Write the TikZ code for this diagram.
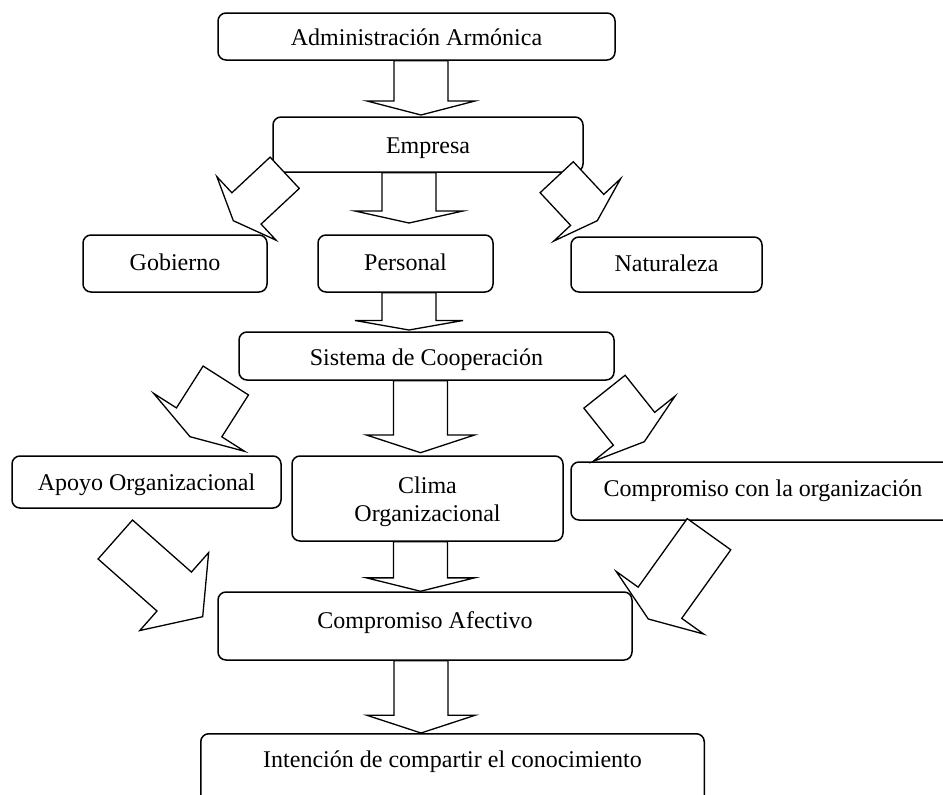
\documentclass[tikz,border=0pt]{standalone}
\usepackage{fontspec}
\setmainfont{Liberation Serif}
\usetikzlibrary{calc}

\tikzset{
  box/.style={draw, line width=1.5pt, rounded corners=8pt, inner sep=0pt,
    fill=white, font=\fontsize{24}{28}\selectfont, align=center},
  % single line of text: fixed height, baseline set by the depth
  oneline/.style={text height=18pt, text depth=#1},
  barrow/.style={draw, fill=white, line width=1.3pt, line join=miter},
}

% block arrow: #1 tail, #2 tip, #3 half shaft width, #4 half head width, #5 head length
\newcommand\blockarrow[5]{%
  \coordinate (neck) at ($(#2)!#5!(#1)$);
  \draw[barrow] ($(#1)!#3!90:(#2)$) -- ($(neck)!#3!90:(#2)$) -- ($(neck)!#4!90:(#2)$)
    -- (#2) -- ($(neck)!#4!-90:(#2)$) -- ($(neck)!#3!-90:(#2)$)
    -- ($(#1)!#3!-90:(#2)$) -- cycle;}

\begin{document}
\begin{tikzpicture}[x=1pt, y=-1pt]
\useasboundingbox (0,0) rectangle (943,795);
\clip (0,0) rectangle (943,795);

% boxes
\node[box, oneline=0pt, minimum width=397pt, minimum height=47pt] (adm) at (416.5,36.5) {Administración Armónica};
\node[box, oneline=0pt, minimum width=310pt, minimum height=55pt] (emp) at (428,144.5) {Empresa};
\node[box, oneline=5pt, minimum width=184pt, minimum height=57pt] (gob) at (175,263.5) {Gobierno};
\node[box, oneline=5pt, minimum width=175pt, minimum height=57pt] (per) at (405.5,263.5) {Personal};
\node[box, oneline=4pt, minimum width=191pt, minimum height=55pt] (nat) at (666.5,264.5) {Naturaleza};
\node[box, oneline=0pt, minimum width=375pt, minimum height=48pt] (sis) at (426.5,356) {Sistema de Cooperación};
\node[box, oneline=2pt, minimum width=269pt, minimum height=52pt] (apo) at (146.5,482) {Apoyo Organizacional};
\node[box, minimum width=271pt, minimum height=85pt] (cli) at (427.5,498.5) {\rule{0pt}{23pt}Clima\\Organizacional};
\node[box, oneline=8pt, minimum width=384pt, minimum height=58pt] (org) at (763,491) {Compromiso con la organización};
\node[box, oneline=14pt, minimum width=414pt, minimum height=68pt] (afe) at (425,626) {Compromiso Afectivo};
\node[box, minimum width=503.5pt, text height=34pt, text depth=40pt, anchor=north] (int) at (452.5,733) {Intención de compartir el conocimiento};

% arrow ends
\coordinate (t1) at (adm.south -| 421,0);   \coordinate (h1) at (421,115);
\coordinate (t2) at (emp.south -| 409,0);   \coordinate (h2) at (409,223);
\coordinate (t3) at (per.south -| 409,0);   \coordinate (h3) at (409,330);
\coordinate (t4) at (sis.south -| 420.5,0); \coordinate (h4) at (420.5,452.7);
\coordinate (t5) at (cli.south -| 420.5,0); \coordinate (h5) at (afe.north -| 420.5,0);
\coordinate (t6) at (afe.south -| 421,0);   \coordinate (h6) at (int.north -| 421,0);

\coordinate (tg) at (284.7,172.8); \coordinate (hg) at (233.3,220.7);
\coordinate (tn) at (556.7,177.2); \coordinate (hn) at (597.3,220.7);
\coordinate (ta) at (225.8,380.5); \coordinate (ha) at (190,436.7);
\coordinate (to) at (604.5,391.7); \coordinate (ho) at (644.3,441.7);
\coordinate (tb) at (115.3,539.5); \coordinate (hb) at (202.7,616.7);
\coordinate (tc) at (709,534.2);   \coordinate (hc) at (648.3,619);

% vertical arrows
\blockarrow{t1}{h1}{27pt}{54pt}{14pt}
\blockarrow{t2}{h2}{27pt}{54pt}{12pt}
\blockarrow{t3}{h3}{27pt}{54pt}{9.5pt}
\blockarrow{t4}{h4}{27pt}{54pt}{17.7pt}
\blockarrow{t5}{h5}{27pt}{54pt}{13.4pt}
\blockarrow{t6}{h6}{27pt}{54pt}{17.7pt}

% slanted arrows
\blockarrow{tg}{hg}{21.4pt}{43.4pt}{18pt}
\blockarrow{tn}{hn}{22.7pt}{45.7pt}{14.8pt}
\blockarrow{ta}{ha}{26.9pt}{53.9pt}{17pt}
\blockarrow{to}{ho}{26.4pt}{52.5pt}{16.5pt}
\blockarrow{tb}{hb}{26pt}{52pt}{38pt}
\blockarrow{tc}{hc}{26.8pt}{53.8pt}{20pt}
\end{tikzpicture}
\end{document}
